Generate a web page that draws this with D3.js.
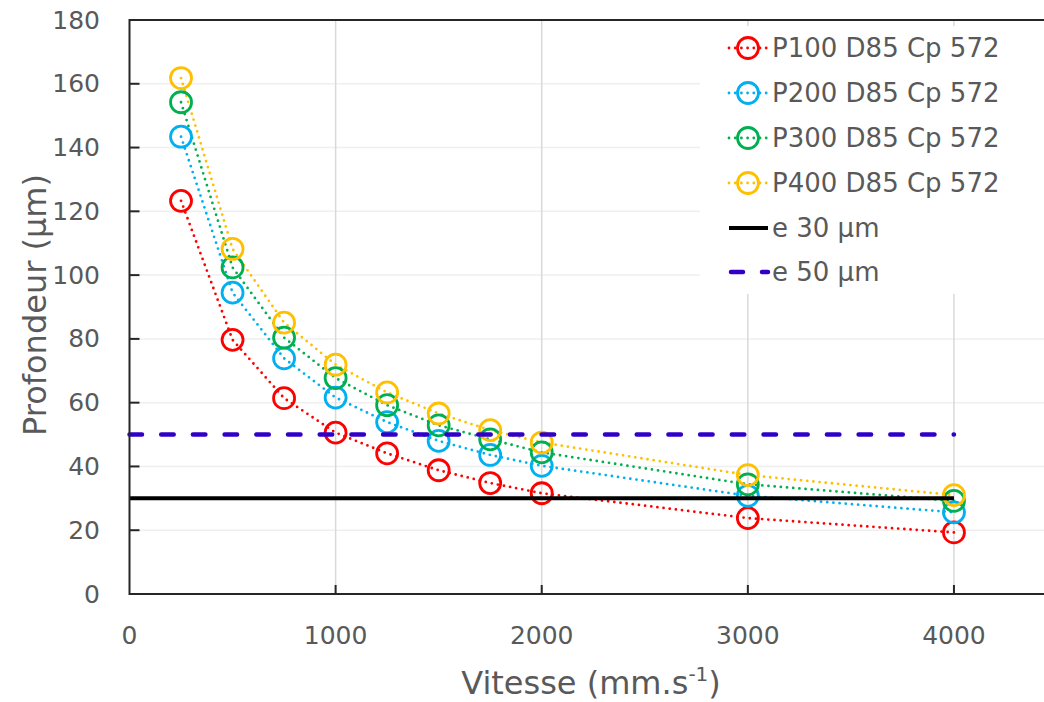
<!DOCTYPE html>
<html><head><meta charset="utf-8">
<script src="https://cdn.jsdelivr.net/npm/d3@7"></script>
<style>body{margin:0;background:#fff}svg{display:block}text{font-family:"DejaVu Sans",Verdana,sans-serif;fill:#595959}</style>
</head><body><svg id="c" width="1044" height="702"></svg>
<script>
const vitesse = [250, 500, 750, 1000, 1250, 1500, 1750, 2000, 3000, 4000];
const p100 = [123.3, 79.7, 61.4, 50.6, 44.1, 38.8, 34.8, 31.6, 23.8, 19.3];
const p200 = [143.4, 94.5, 73.9, 61.6, 53.9, 48.0, 43.6, 40.2, 30.8, 25.6];
const p300 = [154.2, 102.4, 80.4, 67.7, 59.2, 52.9, 48.5, 44.4, 34.4, 29.2];
const p400 = [161.8, 108.2, 85.1, 71.9, 63.2, 56.6, 51.4, 47.5, 37.3, 31.0];
const refX = [0, 4000];
const e30 = [30, 30];
const e50 = [50, 50];
const seriesNames = ["P100 D85 Cp 572", "P200 D85 Cp 572", "P300 D85 Cp 572", "P400 D85 Cp 572"];
const seriesColors = ["#FF0000", "#00B0F0", "#00B050", "#FFC000"];
const xTicks = [0, 1000, 2000, 3000, 4000];
const yTicks = [0, 20, 40, 60, 80, 100, 120, 140, 160, 180];

const svg = d3.select("#c");
const x = d3.scaleLinear().domain([0, 4500]).range([129.5, 1057]);
const y = d3.scaleLinear().domain([0, 180]).range([594, 20]);
const L = 129.5, R = 1044, T = 20, B = 594;

// grid
svg.append("g").selectAll("line").data(yTicks.slice(1)).join("line")
  .attr("x1", L).attr("x2", R).attr("y1", d => y(d)).attr("y2", d => y(d))
  .attr("stroke", "#efefef").attr("stroke-width", 1.5);
svg.append("g").selectAll("line").data(xTicks.slice(1)).join("line")
  .attr("x1", d => x(d)).attr("x2", d => x(d)).attr("y1", T).attr("y2", B)
  .attr("stroke", "#d9d9d9").attr("stroke-width", 1.5);

// series
const all = [p100, p200, p300, p400];
const line = d3.line().x(d => x(d[0])).y(d => y(d[1]));
all.forEach((vals, i) => {
  const pts = vitesse.map((v, j) => [v, vals[j]]);
  svg.append("path").attr("d", line(pts)).attr("fill", "none")
    .attr("stroke", seriesColors[i]).attr("stroke-width", 2.8)
    .attr("stroke-dasharray", "0 6.2").attr("stroke-linecap", "round");
});
all.forEach((vals, i) => {
  svg.append("g").selectAll("circle").data(vitesse.map((v, j) => [v, vals[j]])).join("circle")
    .attr("cx", d => x(d[0])).attr("cy", d => y(d[1])).attr("r", 10.5)
    .attr("fill", "none").attr("stroke", seriesColors[i]).attr("stroke-width", 2.8);
});

// reference lines
const refLine = d3.line().x(d => x(d[0])).y(d => y(d[1]));
svg.append("path").attr("d", refLine(refX.map((v, j) => [v, e30[j]])))
  .attr("stroke", "#000").attr("stroke-width", 4).attr("fill", "none");
svg.append("path").attr("d", refLine(refX.map((v, j) => [v, e50[j]])))
  .attr("stroke", "#3000C8").attr("stroke-width", 4.5).attr("fill", "none")
  .attr("stroke-dasharray", "12.5 19.2").attr("stroke-linecap", "round");

// axes
const ax = svg.append("g").attr("stroke", "#262626").attr("stroke-width", 2);
ax.append("line").attr("x1", L).attr("x2", R).attr("y1", B).attr("y2", B);
ax.append("line").attr("x1", L).attr("x2", R).attr("y1", T).attr("y2", T);
ax.append("line").attr("x1", L).attr("x2", L).attr("y1", T - 1).attr("y2", B + 1);
ax.selectAll(".yt").data(yTicks.slice(1)).join("line")
  .attr("x1", L).attr("x2", L + 10).attr("y1", d => y(d)).attr("y2", d => y(d));
ax.selectAll(".xt").data(xTicks.slice(1)).join("line")
  .attr("x1", d => x(d)).attr("x2", d => x(d)).attr("y1", B).attr("y2", B - 9);

svg.append("g").selectAll("text").data(yTicks).join("text")
  .attr("x", 100).attr("y", d => y(d)).attr("text-anchor", "end")
  .attr("dominant-baseline", "central").attr("font-size", 25).text(d => d);
svg.append("g").selectAll("text").data(xTicks).join("text")
  .attr("x", d => x(d)).attr("y", 635).attr("text-anchor", "middle")
  .attr("dominant-baseline", "central").attr("font-size", 25).text(d => d);

// titles
const xt = svg.append("text").attr("x", 591).attr("y", 694).attr("text-anchor", "middle").attr("font-size", 32);
xt.append("tspan").text("Vitesse (mm.s");
xt.append("tspan").attr("font-size", 20).attr("dy", -13).text("-1");
xt.append("tspan").attr("dy", 13).text(")");
svg.append("text").attr("transform", "translate(46,305) rotate(-90)").attr("text-anchor", "middle")
  .attr("font-size", 32).text("Profondeur (µm)");

// legend
svg.append("rect").attr("x", 700).attr("y", 26).attr("width", 344).attr("height", 268).attr("fill", "#fff");
const rows = [48, 93, 138, 183, 228, 272];
const lg = svg.append("g");
seriesNames.forEach((n, i) => {
  const ry = rows[i];
  lg.append("line").attr("x1", 729).attr("x2", 768).attr("y1", ry).attr("y2", ry)
    .attr("stroke", seriesColors[i]).attr("stroke-width", 2.8)
    .attr("stroke-dasharray", "0 6.2").attr("stroke-linecap", "round");
  lg.append("circle").attr("cx", 748).attr("cy", ry).attr("r", 10.5).attr("fill", "none")
    .attr("stroke", seriesColors[i]).attr("stroke-width", 2.8);
  lg.append("text").attr("x", 772).attr("y", ry).attr("dominant-baseline", "central")
    .attr("font-size", 26).text(n);
});
lg.append("line").attr("x1", 729).attr("x2", 768).attr("y1", rows[4]).attr("y2", rows[4])
  .attr("stroke", "#000").attr("stroke-width", 4);
lg.append("text").attr("x", 772).attr("y", rows[4]).attr("dominant-baseline", "central").attr("font-size", 26).text("e 30 µm");
lg.append("line").attr("x1", 731).attr("x2", 768).attr("y1", rows[5]).attr("y2", rows[5])
  .attr("stroke", "#3000C8").attr("stroke-width", 4.5).attr("stroke-linecap", "round")
  .attr("stroke-dasharray", "12 19");
lg.append("text").attr("x", 772).attr("y", rows[5]).attr("dominant-baseline", "central").attr("font-size", 26).text("e 50 µm");
</script></body></html>
